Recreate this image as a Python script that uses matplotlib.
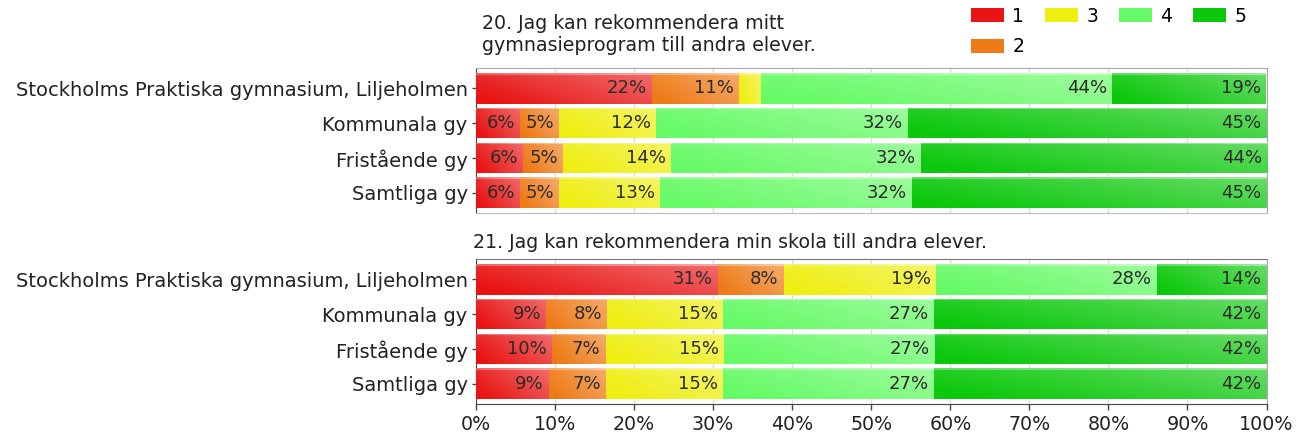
import numpy as np
import matplotlib
matplotlib.use("Agg")
import matplotlib.pyplot as plt
from matplotlib.patches import Patch
from matplotlib.colors import to_rgb

plt.rcParams['font.family'] = 'DejaVu Sans'

# %% data

schools = ['Stockholms Praktiska gymnasium, Liljeholmen', 'Kommunala gy',
           'Fristående gy', 'Samtliga gy']
grades = ['1', '2', '3', '4', '5']

title_q20 = '20. Jag kan rekommendera mitt\ngymnasieprogram till andra elever.'
title_q21 = '21. Jag kan rekommendera min skola till andra elever.'

# share (%) per grade, one list per school
q20 = [[22.2, 11.1, 2.8, 44.4, 19.4],
       [5.6, 4.9, 12.3, 31.9, 45.3],
       [6.0, 5.0, 13.7, 31.6, 43.8],
       [5.6, 4.9, 12.8, 31.8, 44.9]]

q21 = [[30.6, 8.3, 19.3, 27.9, 13.9],
       [8.9, 7.7, 14.6, 26.7, 42.1],
       [9.6, 6.8, 15.0, 26.7, 41.9],
       [9.2, 7.3, 14.7, 26.7, 42.1]]

xticks = np.arange(0, 101, 10)

colors = ['#e81414', '#ee7a16', '#eeee10', '#66fa66', '#0cc80c']


# %% helpers

def shade(base, ny=30, nx=60):
    # horizontal gradient towards white + light top edge
    c = np.array(to_rgb(base))
    tx = np.linspace(0.0, 0.27, nx)[None, :]
    ty = np.linspace(0.10, -0.04, ny)[:, None]
    w = np.clip(tx + ty, 0, 1)
    w[:2, :] += 0.25
    w = np.clip(w, 0, 1)[..., None]
    return c * (1 - w) + w


def draw_panel(ax, data, title, title_x, title_y):
    data = np.array(data)
    left = np.zeros(len(schools))
    ypos = np.arange(len(schools))
    for j, g in enumerate(grades):
        bars = ax.barh(ypos, data[:, j], left=left, height=0.88,
                       color=colors[j], zorder=2, linewidth=0)
        img = shade(colors[j])
        for b in bars:
            x0, y0 = b.get_x(), b.get_y()
            im = ax.imshow(img, extent=(x0, x0 + b.get_width(), y0 + b.get_height(), y0),
                           aspect='auto', zorder=3, interpolation='bilinear')
            im.set_clip_path(b)
        for i, v in enumerate(data[:, j]):
            if v >= 4:
                ax.text(left[i] + v - 0.65, i, f'{round(v)}%', ha='right', va='center',
                        fontsize=13, color='#2a2a2a', zorder=4)
        left += data[:, j]

    ax.set_xlim(0, 100)
    ax.set_ylim(3.59, -0.59)
    ax.set_yticks(ypos)
    ax.set_yticklabels(schools, fontsize=14, color='#222222')
    ax.set_xticks(xticks)
    ax.grid(axis='x', color='#dcdcdc', linewidth=1, zorder=0)
    ax.set_axisbelow(True)
    ax.tick_params(axis='y', length=3, width=1, color='#444444', pad=3)
    for s in ['top', 'right']:
        ax.spines[s].set_color('#aaaaaa')
    ax.spines['left'].set_color('#444444')
    ax.text(title_x, title_y, title, transform=ax.transAxes, ha='left', va='bottom',
            fontsize=13.7, color='#222222', linespacing=1.2)


# %% figure

fig = plt.figure(figsize=(13.01, 4.38), dpi=100)
ax1 = fig.add_axes([0.3659, 0.5137, 0.6076, 0.3311])
ax2 = fig.add_axes([0.3659, 0.0776, 0.6076, 0.3311])

draw_panel(ax1, q20, title_q20, 0.008, 1.09)
draw_panel(ax2, q21, title_q21, -0.004, 1.045)

ax1.tick_params(axis='x', length=0, labelbottom=False)
ax1.spines['bottom'].set_color('#bbbbbb')
ax2.spines['top'].set_color('#777777')
ax2.spines['bottom'].set_color('#444444')
ax2.set_xticklabels([f'{t}%' for t in xticks], fontsize=13.7, color='#222222')
ax2.tick_params(axis='x', length=4, width=1, color='#444444', pad=4)

handles = [Patch(facecolor=c, edgecolor='none') for c in colors]
fig.legend(handles, grades, loc='upper left', bbox_to_anchor=(0.7348, 1.019),
           ncol=4, frameon=False, fontsize=13.5, handlelength=1.76, handleheight=0.8,
           handletextpad=0.45, columnspacing=1.1, labelspacing=0.62, borderpad=0.3)

fig.savefig('out.png', dpi=100)
